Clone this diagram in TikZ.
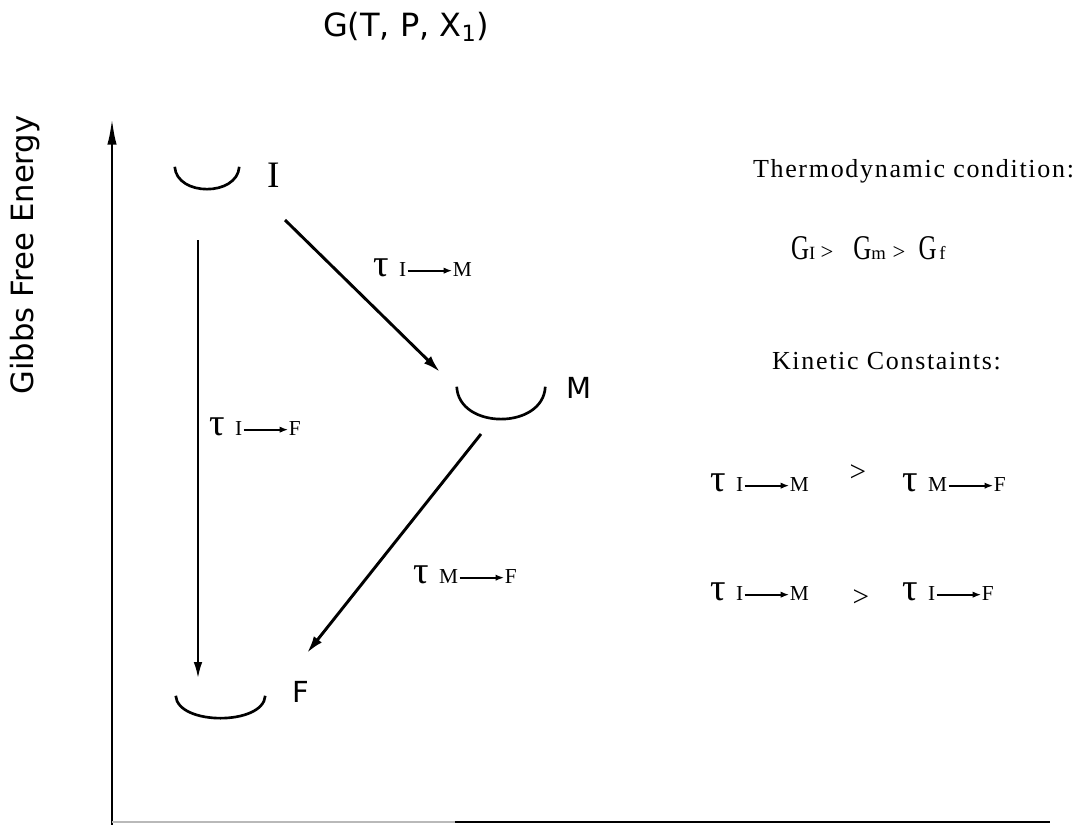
\documentclass[tikz,border=0pt]{standalone}
\usepackage{fontspec}
\usepackage{graphicx}
\setmainfont{Liberation Serif}
\newfontfamily\dejasans{DejaVu Sans}
\newfontfamily\spacedserif[LetterSpace=6.5]{Liberation Serif}
\usetikzlibrary{arrows.meta}

\newcommand\taulab[4]{%
  \node[taustyle] (#1) at (#2) {τ};
  \node[substyle] (#1a) at ([xshift=8pt]#1.base east) {#3};
  \node[substyle] (#1b) at ([xshift=35pt]#1a.base east) {#4};
  \draw[subarrow] ([yshift=4pt]#1a.base east) -- ([yshift=4pt]#1b.base west);
}
\newcommand\condG{{\fontsize{26pt}{28pt}\selectfont\scalebox{0.72}[1]{G}}}

\tikzset{
 lbl/.style={inner sep=0pt, outer sep=0pt},
 taustyle/.style={lbl, anchor=base west, font=\fontsize{29pt}{32pt}\selectfont},
 substyle/.style={lbl, anchor=base west, font=\fontsize{16pt}{18pt}\selectfont},
 subarrow/.style={line width=1.4pt, -{Latex[length=6.5pt,width=4.8pt]}, shorten <=1pt, shorten >=0.5pt},
 well/.style={inner sep=0pt, draw=none},
 wellline/.style={line width=2pt},
 thinconn/.style={line width=1.4pt, -{Latex[length=12pt,width=6.5pt]}},
 thickconn/.style={line width=2.2pt, -{Latex[length=13pt,width=7.5pt]}},
 axisline/.style={line width=2pt, -{Latex[length=20pt,width=7pt]}},
 sanslbl/.style={lbl, anchor=base west, font=\dejasans\fontsize{21.75pt}{24pt}\selectfont},
 gtstyle/.style={lbl, font=\fontsize{22pt}{24pt}\selectfont},
 headtext/.style={lbl, anchor=base west, font=\spacedserif\fontsize{19.5pt}{22pt}\selectfont},
}

\begin{document}
\begin{tikzpicture}[x=0.75pt,y=-0.75pt]
\useasboundingbox (0,0) rectangle (1084,824);

% title
\node[lbl, anchor=base west, font=\dejasans\fontsize{24pt}{28pt}\selectfont] (title) at (323,37) {G(T, P, X\textsubscript{1})};

% axes
\coordinate (axb) at (112,830);
\coordinate (axt) at (112,118);
\draw[axisline] (axb) -- (axt);
\node[lbl, anchor=base, rotate=90, font=\dejasans\fontsize{23pt}{26pt}\selectfont] (ylab) at (33,255) {Gibbs Free Energy};
\coordinate (bx0) at (112,822);
\coordinate (bx1) at (455,822);
\coordinate (bx2) at (1050,822);
\draw[line width=2.2pt, gray!55] (bx0) -- (bx1);
\draw[line width=2.2pt] (bx1) -- (bx2);

% wells
\node[well, minimum width=48pt, minimum height=22pt] (wI) at (207,181.7) {};
\node[well, minimum width=66pt, minimum height=32pt] (wM) at (501,408.3) {};
\node[well, minimum width=66.75pt, minimum height=22pt] (wF) at (220.5,710.7) {};
\foreach \w in {wI,wM,wF}{
  \draw[wellline] (\w.north west) .. controls ([xshift=1.5pt]\w.south west) and ([xshift=-1.5pt]\w.south east) .. (\w.north east);
}
\node[lbl, anchor=base west, font=\fontsize{28pt}{30pt}\selectfont] (lI) at (267,187) {I};
\node[sanslbl] (lM) at (566,398) {M};
\node[sanslbl] (lF) at (292,702) {F};

% transitions
\coordinate (IFs) at (198,240);
\coordinate (IFe) at (198,678);
\coordinate (IMs) at (285,220);
\coordinate (IMe) at (440,372);
\coordinate (MFs) at (481,434);
\coordinate (MFe) at (307,653);
\draw[thinconn] (IFs) -- (IFe);
\draw[thickconn] (IMs) -- (IMe);
\draw[thickconn] (MFs) -- (MFe);

\taulab{tIM}{373,276}{I}{M}
\taulab{tIF}{209,435}{I}{F}
\taulab{tMF}{413,583}{M}{F}

% right side
\node[headtext] (thermo) at (753,177) {Thermodynamic condition:};
\node[lbl, anchor=base west, font=\fontsize{14pt}{16pt}\selectfont] (gcond) at (791,259)
  {\condG I\hspace{4pt}{\fontsize{17pt}{18pt}\selectfont>}\hspace{15pt}\condG m\hspace{5pt}{\fontsize{17pt}{18pt}\selectfont>}\hspace{10pt}\condG \hspace{2pt}f};
\node[headtext] (kinetic) at (772,369) {Kinetic Constaints:};

\taulab{rA}{710,491}{I}{M}
\node[gtstyle] (gt1) at (858,473) {>};
\taulab{rB}{902,491}{M}{F}

\taulab{rC}{710,600}{I}{M}
\node[gtstyle] (gt2) at (861,598) {>};
\taulab{rD}{902,600}{I}{F}
\end{tikzpicture}
\end{document}
